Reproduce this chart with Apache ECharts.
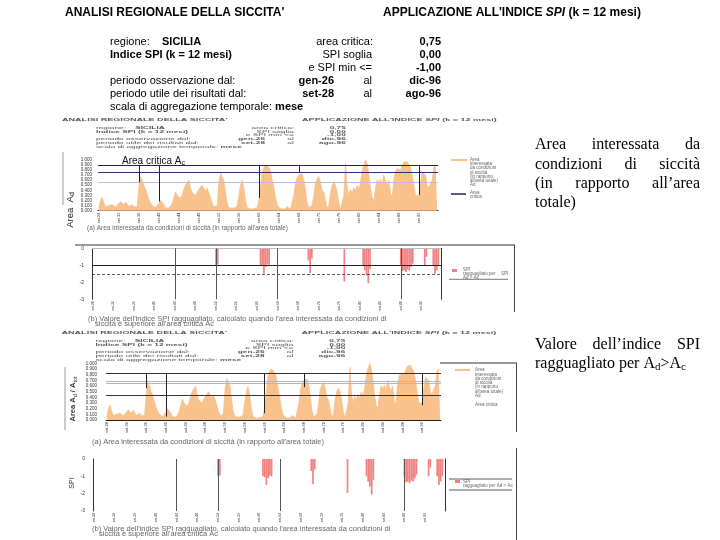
<!DOCTYPE html>
<html>
<head>
<meta charset="utf-8">
<script src="https://cdn.jsdelivr.net/npm/echarts@6/dist/echarts.min.js"></script>
<style>
  html, body { margin: 0; background: #fff; }
  #main { width: 720px; height: 540px; }
</style>
</head>
<body>
<div id="main"></div>
<script>
// nomi dei mesi per le etichette dell'asse (passo di 4 mesi, da set-28 a mag-96)
var monthNames = ['gen', 'feb', 'mar', 'apr', 'mag', 'giu', 'lug', 'ago', 'set', 'ott', 'nov', 'dic'];
var categories = [];
for (var i = 0; i < 204; i++) {
  var k = 8 + 4 * i;
  categories.push(monthNames[k % 12] + '-' + (28 + Math.floor(k / 12)));
}

// area interessata da siccita' (frazione dell'area totale)
var areaValues = [
  0.05, 0.2, 0.26, 0.15, 0.08, 0.06, 0.1, 0.08, 0.12, 0.09, 0.07, 0.1,
  0.14, 0.18, 0.16, 0.12, 0.17, 0.13, 0.08, 0.1, 0.12, 0.08, 0.05, 0.07,
  0.45, 0.67, 0.6, 0.5, 0.42, 0.33, 0.22, 0.15, 0.1, 0.08, 0.06, 0.09,
  0.14, 0.2, 0.21, 0.12, 0.06, 0.08, 0.05, 0.09, 0.14, 0.25, 0.37, 0.3,
  0.33, 0.24, 0.3, 0.42, 0.5, 0.55, 0.6, 0.45, 0.35, 0.38, 0.3, 0.36,
  0.42, 0.45, 0.5, 0.44, 0.38, 0.44, 0.35, 0.25, 0.15, 0.08, 0.06, 0.1,
  0.55, 0.73, 0.75, 0.6, 0.35, 0.15, 0.06, 0.04, 0.05, 0.03, 0.06, 0.1,
  0.3, 0.5, 0.6, 0.45, 0.2, 0.06, 0.04, 0.03, 0.05, 0.04, 0.03, 0.06,
  0.2, 0.45, 0.75, 0.85, 0.9, 0.92, 0.85, 0.78, 0.6, 0.45, 0.27, 0.12,
  0.06, 0.05, 0.03, 0.02, 0.04, 0.08, 0.05, 0.03, 0.06, 0.3, 0.55, 0.65,
  0.7, 0.68, 0.72, 0.6, 0.4, 0.15, 0.06, 0.08, 0.1, 0.3, 0.55, 0.62,
  0.67, 0.55, 0.4, 0.35, 0.2, 0.05, 0.1, 0.35, 0.5, 0.57, 0.5, 0.35,
  0.15, 0.03, 0.02, 0.3, 0.93, 0.45, 0.3, 0.42, 0.35, 0.45, 0.38, 0.5,
  0.42, 0.55, 0.78, 0.9, 1.0, 0.92, 0.7, 0.45, 0.25, 0.2, 0.45, 0.6,
  0.55, 0.62, 0.5, 0.7, 0.58, 0.5, 0.6, 0.35, 0.27, 0.6, 0.78, 0.82,
  0.85, 0.8, 0.88, 0.95, 0.93, 0.96, 0.9, 0.85, 0.7, 0.5, 0.3, 0.28,
  0.3, 0.55, 0.75, 0.77, 0.7, 0.5, 0.45, 0.48, 0.6, 0.85, 0.9, 0.88
];

// SPI ragguagliato (solo dove Ad > Ac): indice della categoria e valore
var spiIndex = [72, 73, 98, 99, 100, 101, 102, 103, 126, 127, 128, 147,
  158, 159, 160, 161, 162, 180, 181, 182, 183, 184, 185, 186, 187,
  194, 195, 199, 200, 201, 202];
var spiValues = [-1.0, -0.95, -1.0, -1.05, -1.5, -1.1, -0.95, -1.0, -0.7, -1.45, -0.6, -1.95,
  -1.0, -1.3, -1.6, -2.05, -1.2, -1.0, -1.35, -1.3, -1.4, -1.25, -1.3, -1.1, -0.9,
  -1.0, -0.5, -1.0, -1.5, -1.3, -1.0];

// linee verticali nei grafici
var areaMarkIdx = [24, 36, 96, 120, 192];
var areaMarkEnd1 = [0.56, 0.18, 0.25, 0.74, 0.31];
var areaMarkEnd2 = [0.56, 0.06, 0.12, 0.58, 0.26];
var spiMarkIdx = [48, 72, 108, 180];

var SANS = '"Liberation Sans", Arial, sans-serif';
var SERIF = '"Liberation Serif", "Times New Roman", serif';
var AREA_COLOR = '#F9C18C';
var SPI_COLOR = '#F08282';
var NAVY = '#1f2455';

var chart = echarts.init(document.getElementById('main'));

function t(x, y, text, o) {
  o = o || {};
  return {
    type: 'text', x: x, y: y, rotation: o.rotation || 0, silent: true,
    style: {
      text: text, fill: o.color || '#000',
      fontSize: o.size || 11, fontFamily: o.family || SANS,
      fontWeight: o.bold ? 'bold' : 'normal', fontStyle: o.italic ? 'italic' : 'normal',
      align: o.align || 'left', textAlign: o.align || 'left',
      verticalAlign: 'middle', textVerticalAlign: 'middle',
      rich: o.rich
    }
  };
}
function ln(x1, y1, x2, y2, color, w, dash) {
  return { type: 'line', silent: true, shape: { x1: x1, y1: y1, x2: x2, y2: y2 },
    style: { stroke: color, lineWidth: w || 1, lineDash: dash || null } };
}

// intestazione (usata a piena scala e in miniatura)
function headerItems(c) {
  var r = [];
  r.push(t(65, 13, "ANALISI REGIONALE DELLA SICCITA'", { bold: true, size: 12, color: c }));
  r.push(t(383, 13, "{a|APPLICAZIONE ALL'INDICE }{b|SPI}{a| (k = 12 mesi)}", { color: c, rich: {
    a: { fontSize: 12, fontWeight: 'bold', fontFamily: SANS, fill: c, color: c },
    b: { fontSize: 12, fontWeight: 'bold', fontStyle: 'italic', fontFamily: SANS, fill: c, color: c }
  } }));
  var rows = [42.3, 55, 67.7, 80.7, 93.7, 106.7];
  r.push(t(110, rows[0], 'regione:', { color: c }));
  r.push(t(162, rows[0], 'SICILIA', { bold: true, color: c }));
  r.push(t(373, rows[0], 'area critica:', { align: 'right', color: c }));
  r.push(t(441, rows[0], '0,75', { align: 'right', bold: true, color: c }));
  r.push(t(110, rows[1], 'Indice SPI (k = 12 mesi)', { bold: true, color: c }));
  r.push(t(372, rows[1], 'SPI soglia', { align: 'right', color: c }));
  r.push(t(441, rows[1], '0,00', { align: 'right', bold: true, color: c }));
  r.push(t(372, rows[2], 'e SPI min <=', { align: 'right', color: c }));
  r.push(t(441, rows[2], '-1,00', { align: 'right', bold: true, color: c }));
  r.push(t(110, rows[3], 'periodo osservazione dal:', { color: c }));
  r.push(t(334, rows[3], 'gen-26', { align: 'right', bold: true, color: c }));
  r.push(t(372, rows[3], 'al', { align: 'right', color: c }));
  r.push(t(441, rows[3], 'dic-96', { align: 'right', bold: true, color: c }));
  r.push(t(110, rows[4], 'periodo utile dei risultati dal:', { color: c }));
  r.push(t(334, rows[4], 'set-28', { align: 'right', bold: true, color: c }));
  r.push(t(372, rows[4], 'al', { align: 'right', color: c }));
  r.push(t(441, rows[4], 'ago-96', { align: 'right', bold: true, color: c }));
  r.push(t(110, rows[5], '{a|scala di aggregazione temporale: }{b|mese}', { color: c, rich: {
    a: { fontSize: 11, fontFamily: SANS, fill: c, color: c },
    b: { fontSize: 11, fontWeight: 'bold', fontFamily: SANS, fill: c, color: c }
  } }));
  return r;
}

// testo giustificato a destra
var ctx = document.createElement('canvas').getContext('2d');
ctx.font = '16px ' + SERIF;
function justify(words, y, x0, x1) {
  var ws = words.map(function (w) { return ctx.measureText(w).width; });
  var tot = ws.reduce(function (a, b) { return a + b; }, 0);
  var gap = (x1 - x0 - tot) / (words.length - 1);
  var x = x0, out = [];
  words.forEach(function (w, i) {
    out.push(t(x, y, w, { family: SERIF, size: 16 }));
    x += ws[i] + gap;
  });
  return out;
}

var capA = "(a) Area interessata da condizioni di siccità (in rapporto all'area totale)";
var capB1 = "(b) Valore dell'indice SPI ragguagliato, calcolato quando l'area interessata da condizioni di";
var capB2 = "siccità è superiore all'area critica Ac";
var grey = '#666';
var legTxt = ['Area', 'interessata', 'da condizioni', 'di siccità', '(in rapporto', "all'area totale)", 'Ad'];

var graphic = [];
graphic.push({ type: 'group', children: headerItems('#000') });
graphic.push({ type: 'group', x: 12.9, y: 116.3, scaleX: 0.755, scaleY: 0.285, children: headerItems('#555') });
graphic.push({ type: 'group', x: 12.4, y: 329.3, scaleX: 0.755, scaleY: 0.285, children: headerItems('#555') });

// grafico 1 (area)
graphic.push(ln(63, 152, 63, 205, '#999', 1));
graphic.push(t(70, 210, '{n|Area  A}{s|d}', { rotation: Math.PI / 2, align: 'center', rich: {
  n: { fontSize: 9.5, fontFamily: SANS, lineHeight: 12, fill: '#222', color: '#222' },
  s: { fontSize: 7, fontFamily: SANS, lineHeight: 7, verticalAlign: 'bottom', fill: '#222', color: '#222' }
} }));
graphic.push(t(122, 161, '{n|Area critica A}{s|c}', { rich: {
  n: { fontSize: 10, fontFamily: SANS, lineHeight: 12, fill: '#111', color: '#111' },
  s: { fontSize: 7, fontFamily: SANS, lineHeight: 7, verticalAlign: 'bottom', fill: '#111', color: '#111' }
} }));
graphic.push(ln(451, 160, 467, 160, AREA_COLOR, 2));
legTxt.forEach(function (s, i) { graphic.push(t(470, 160 + i * 4.1, s, { size: 4.5, color: grey })); });
graphic.push(ln(451, 194, 466, 194, NAVY, 1.5));
graphic.push(t(470, 193, 'Area', { size: 4.5, color: grey }));
graphic.push(t(470, 197, 'critica', { size: 4.5, color: grey }));
graphic.push(t(87, 228.5, capA, { size: 6.5, color: grey }));

// grafico 1 (SPI)
graphic.push(ln(75, 245, 515, 245, '#333', 1));
graphic.push(ln(514.5, 245, 514.5, 312, '#444', 1));
graphic.push({ type: 'rect', silent: true, shape: { x: 452, y: 269, width: 5, height: 3 }, style: { fill: SPI_COLOR } });
graphic.push(t(463, 269.3, 'SPI', { size: 4.5, color: grey }));
graphic.push(t(463, 273.3, 'ragguagliato per', { size: 4.5, color: grey }));
graphic.push(t(501, 273.3, 'SPI', { size: 4.5, color: grey }));
graphic.push(t(463, 277.3, 'Ad > Ac', { size: 4.5, color: grey }));
graphic.push(ln(449, 279.3, 508, 279.3, '#555', 0.8));
graphic.push(t(88, 319, capB1, { size: 7.5, color: grey }));
graphic.push(t(95, 324, capB2, { size: 7.5, color: grey }));

// grafico 2 (area)
graphic.push(ln(65, 367, 65, 430, '#999', 1));
graphic.push(t(73, 399, '{n|Area A}{s|d}{n| / A}{s|tot}', { rotation: Math.PI / 2, align: 'center', rich: {
  n: { fontSize: 7.5, fontFamily: SANS, fontWeight: 'bold', lineHeight: 10, fill: '#333', color: '#333' },
  s: { fontSize: 5.5, fontFamily: SANS, lineHeight: 6, verticalAlign: 'bottom', fill: '#333', color: '#333' }
} }));
graphic.push(ln(440, 363, 517, 363, '#333', 1));
graphic.push(ln(516.5, 363, 516.5, 432, '#444', 1));
graphic.push(ln(455, 370, 470, 370, AREA_COLOR, 2));
legTxt.forEach(function (s, i) { graphic.push(t(475, 370 + i * 4.3, s, { size: 4.5, color: grey })); });
graphic.push(t(475, 405, 'Area critica', { size: 4.5, color: grey }));
graphic.push(t(92, 441.7, capA, { size: 7.5, color: grey }));

// grafico 2 (SPI)
graphic.push(ln(516.5, 448, 516.5, 540, '#444', 1));
graphic.push(t(72, 483, 'SPI', { rotation: Math.PI / 2, align: 'center', size: 7, color: '#333' }));
graphic.push(ln(449, 479, 512, 479, '#333', 0.8));
graphic.push(ln(449, 490, 512, 490, '#333', 0.8));
graphic.push({ type: 'rect', silent: true, shape: { x: 455, y: 480, width: 5, height: 3 }, style: { fill: SPI_COLOR } });
graphic.push(t(463, 481.5, 'SPI', { size: 4.5, color: grey }));
graphic.push(t(463, 485.5, 'ragguagliato per Ad > Ac', { size: 4.5, color: grey }));
graphic.push(t(92, 529, capB1, { size: 7.5, color: grey }));
graphic.push(t(99, 533.5, capB2, { size: 7.5, color: grey }));

// testi a destra
graphic = graphic.concat(justify(['Area', 'interessata', 'da'], 145, 535, 700));
graphic = graphic.concat(justify(['condizioni', 'di', 'siccità'], 165, 535, 700));
graphic = graphic.concat(justify(['(in', 'rapporto', 'all’area'], 184, 535, 700));
graphic.push(t(535, 203, 'totale)', { family: SERIF, size: 16 }));
graphic = graphic.concat(justify(['Valore', 'dell’indice', 'SPI'], 345, 535, 700));
graphic.push(t(535, 364, '{n|ragguagliato per A}{s|d}{n|>A}{s|c}', { rich: {
  n: { fontSize: 16, fontFamily: SERIF, lineHeight: 18, fill: '#000', color: '#000' },
  s: { fontSize: 11, fontFamily: SERIF, lineHeight: 11, verticalAlign: 'bottom', fill: '#000', color: '#000' }
} }));

function xAx(g, showLine, size) {
  return {
    type: 'category', gridIndex: g, data: categories,
    axisTick: { show: false },
    axisLine: { show: showLine, lineStyle: { color: '#222', width: 1 } },
    axisLabel: { interval: 11, rotate: 90, fontSize: size, color: '#333', margin: 2, fontFamily: SANS },
    splitLine: { show: false }
  };
}
function yArea(g) {
  return {
    type: 'value', gridIndex: g, min: 0, max: 1, interval: 0.1,
    axisLine: { show: false }, axisTick: { show: false }, splitLine: { show: false },
    axisLabel: { fontSize: 4.5, color: '#333', margin: g === 0 ? 6 : 9, fontFamily: SANS,
      formatter: function (v) { return v.toFixed(3); } }
  };
}
function ySpi(g, pos) {
  return {
    type: 'value', gridIndex: g, min: -3, max: 0, interval: 1, position: pos,
    axisLine: { show: true, lineStyle: { color: '#333', width: 1 } },
    axisTick: { show: false }, splitLine: { show: false },
    axisLabel: { show: pos === 'left', fontSize: 5, color: '#333', margin: 8, fontFamily: SANS }
  };
}
function vLines(ends, top) {
  return areaMarkIdx.map(function (c, i) {
    return [{ coord: [categories[c], top] }, { coord: [categories[c], ends[i]] }];
  });
}
var spiData = spiIndex.map(function (c, i) { return [categories[c], spiValues[i]]; });
var spiVert = spiMarkIdx.map(function (c) { return { xAxis: categories[c] }; });
var mlBase = { silent: true, symbol: 'none', label: { show: false }, lineStyle: { type: 'solid', color: '#222', width: 1 } };

chart.setOption({
  animation: false,
  backgroundColor: '#fff',
  graphic: graphic,
  grid: [
    { left: 98, top: 159.7, width: 340, height: 51 },
    { left: 92, top: 248.3, width: 349, height: 51 },
    { left: 106, top: 363.3, width: 335, height: 56.7 },
    { left: 93, top: 459, width: 352, height: 52 }
  ],
  xAxis: [xAx(0, true, 3.8), xAx(1, false, 3.3), xAx(2, true, 4), xAx(3, false, 3.3)],
  yAxis: [yArea(0), ySpi(1, 'left'), yArea(2), ySpi(3, 'left'), ySpi(1, 'right'), ySpi(3, 'right')],
  series: [
    {
      name: 'Area Ad', type: 'line', xAxisIndex: 0, yAxisIndex: 0, data: areaValues,
      symbol: 'none', lineStyle: { color: AREA_COLOR, width: 0.8 },
      areaStyle: { color: AREA_COLOR, opacity: 1 },
      markLine: Object.assign({}, mlBase, { data: [
        { yAxis: 0.9, lineStyle: { color: NAVY, width: 1.2 } },
        { yAxis: 0.75, lineStyle: { color: '#2b3170', width: 1.2 } },
        { yAxis: 0.55, lineStyle: { color: '#bcbcdc', width: 1 } }
      ].concat(vLines(areaMarkEnd1, 0.9)) })
    },
    {
      name: 'SPI', type: 'bar', xAxisIndex: 1, yAxisIndex: 1, data: spiData,
      barWidth: '100%', itemStyle: { color: SPI_COLOR },
      markLine: Object.assign({}, mlBase, { data: [
        { yAxis: 0, lineStyle: { color: '#bbb', width: 1 } },
        { yAxis: -1, lineStyle: { color: '#222', width: 1 } },
        { yAxis: -1.5, lineStyle: { color: '#333', width: 0.8, type: [3, 2] } }
      ].concat(spiVert.map(function (d) { return Object.assign({ lineStyle: { color: '#555', width: 1 } }, d); })) })
    },
    {
      name: 'Area Ad 2', type: 'line', xAxisIndex: 2, yAxisIndex: 2, data: areaValues,
      symbol: 'none', lineStyle: { color: AREA_COLOR, width: 0.8 },
      areaStyle: { color: AREA_COLOR, opacity: 1 },
      markLine: Object.assign({}, mlBase, { data: [
        { yAxis: 0.82, lineStyle: { color: '#333', width: 1.2 } },
        { yAxis: 0.68, lineStyle: { color: '#b5b5c8', width: 1 } },
        { yAxis: 0.64, lineStyle: { color: '#b5b5c8', width: 1 } },
        { yAxis: 0.44, lineStyle: { color: '#333', width: 1.2 } }
      ].concat(vLines(areaMarkEnd2, 0.82)) })
    },
    {
      name: 'SPI 2', type: 'bar', xAxisIndex: 3, yAxisIndex: 3, data: spiData,
      barWidth: '100%', itemStyle: { color: SPI_COLOR },
      markLine: Object.assign({}, mlBase, { data:
        spiVert.map(function (d) { return Object.assign({ lineStyle: { color: '#555', width: 1 } }, d); }) })
    }
  ]
});
</script>
</body>
</html>
